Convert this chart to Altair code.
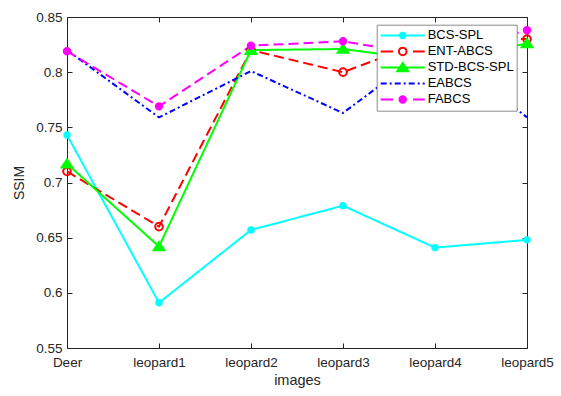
import altair as alt
import pandas as pd

# SSIM of each reconstruction method on the six test images
images = ["Deer", "leopard1", "leopard2", "leopard3", "leopard4", "leopard5"]
series_names = ["BCS-SPL", "ENT-ABCS", "STD-BCS-SPL", "EABCS", "FABCS"]
bcs_spl = [0.743, 0.591, 0.657, 0.679, 0.641, 0.648]
ent_abcs = [0.710, 0.660, 0.820, 0.800, 0.831, 0.830]
std_bcs_spl = [0.717, 0.642, 0.820, 0.821, 0.810, 0.826]
eabcs = [0.820, 0.759, 0.801, 0.763, 0.825, 0.759]
fabcs = [0.819, 0.769, 0.824, 0.828, 0.814, 0.838]
y_ticks = [0.55, 0.6, 0.65, 0.7, 0.75, 0.8, 0.85]

series_colors = ["#00FFFF", "#FF0000", "#00FF00", "#0000FF", "#FF00FF"]
series_dashes = [[1, 0], [10, 5], [1, 0], [6, 3, 2, 3], [10, 5]]

rows = []
for name, vals in zip(series_names, [bcs_spl, ent_abcs, std_bcs_spl, eabcs, fabcs]):
    for img, v in zip(images, vals):
        rows.append({"image": img, "series": name, "ssim": v})
df = pd.DataFrame(rows)

FONT = "Liberation Sans"
INK = "#262626"

# Symbol geometry: custom shapes live on a [-1, 1] square scaled by sqrt(size)/2
SYM = 44                # legend sample width in px
SIZE = SYM * SYM
R = SYM / 2


def u(px):
    return round(px / R, 4)


def circle(rpx):
    r = u(rpx)
    return f"M{r},0A{r},{r},0,1,1,{-r},0A{r},{r},0,1,1,{r},0Z"


def triangle(half_w, top, bottom):
    return f"M0,{u(top)}L{u(half_w)},{u(bottom)}L{-u(half_w)},{u(bottom)}Z"


def dashed_segments(pattern):
    # horizontal sample line from -1 to 1 broken up by a dash pattern (px)
    out, pos, i, on = [], -R, 0, True
    while pos < R:
        step = pattern[i % len(pattern)]
        end = min(pos + step, R)
        if on:
            out.append(f"M{u(pos)},0H{u(end)}")
        pos, i, on = end, i + 1, not on
    return "".join(out)


marker_paths = {
    "BCS-SPL": circle(2.7),
    "ENT-ABCS": circle(3.8),
    "STD-BCS-SPL": triangle(5.4, -4.4, 3.8),
    "FABCS": circle(3.2),
}
marker_fill = {
    "BCS-SPL": "#00FFFF",
    "ENT-ABCS": "transparent",
    "STD-BCS-SPL": "#00FF00",
    "FABCS": "#FF00FF",
}
marker_series = list(marker_paths.keys())
color_of = dict(zip(series_names, series_colors))

legend_paths = [
    "M-1,0H1" + marker_paths["BCS-SPL"],
    f"M-1,0H{u(-9.7)}M{u(10.3)},0H1" + marker_paths["ENT-ABCS"],
    "M-1,0H1" + marker_paths["STD-BCS-SPL"],
    dashed_segments([6, 3, 2, 3]),
    f"M-1,0H{u(-9.7)}M{u(10.3)},0H1" + marker_paths["FABCS"],
]
legend_fill = ["#00FFFF", "white", "#00FF00", "white", "#FF00FF"]

y_scale = alt.Scale(domain=[0.55, 0.85], nice=False, zero=False)

lines = alt.Chart(df).mark_line(strokeWidth=2).encode(
    x=alt.X("image:N", sort=images,
            scale=alt.Scale(type="point", padding=0, domain=images),
            axis=alt.Axis(orient="bottom", title="images", offset=-5, tickSize=5,
                          domain=False, labelAngle=0, labelPadding=7, labelOverlap=False,
                          titlePadding=5, titleFontSize=14.5)),
    y=alt.Y("ssim:Q", scale=y_scale,
            axis=alt.Axis(orient="left", title="SSIM", values=y_ticks, format=".2~f",
                          offset=-5, tickSize=5, domain=False, labelPadding=5,
                          titlePadding=9)),
    color=alt.Color("series:N", scale=alt.Scale(domain=series_names, range=series_colors),
                    legend=None),
    strokeDash=alt.StrokeDash("series:N",
                              scale=alt.Scale(domain=series_names, range=series_dashes),
                              legend=None),
    order=alt.Order("image_idx:Q"),
).transform_calculate(
    image_idx=f"indexof({images}, datum.image)"
)

markers = alt.Chart(df).transform_filter(
    alt.FieldOneOfPredicate(field="series", oneOf=marker_series)
).mark_point(filled=True, opacity=1, strokeWidth=2, size=SIZE).encode(
    x=alt.X("image:N", sort=images,
            scale=alt.Scale(type="point", padding=0, domain=images),
            axis=alt.Axis(orient="top", title=None, labels=False, offset=-5, tickSize=5,
                          domain=False)),
    y=alt.Y("ssim:Q", scale=y_scale,
            axis=alt.Axis(orient="right", title=None, labels=False, values=y_ticks,
                          offset=-5, tickSize=5, domain=False)),
    shape=alt.Shape("series:N",
                    scale=alt.Scale(domain=marker_series,
                                    range=[marker_paths[s] for s in marker_series]),
                    legend=None),
    fill=alt.Fill("series:N",
                  scale=alt.Scale(domain=marker_series,
                                  range=[marker_fill[s] for s in marker_series]),
                  legend=None),
    stroke=alt.Stroke("series:N",
                      scale=alt.Scale(domain=marker_series,
                                      range=[color_of[s] for s in marker_series]),
                      legend=None),
)

key = alt.Legend(
    title=None, orient="none", legendX=309.7, legendY=7.7, direction="vertical",
    symbolSize=SIZE, symbolStrokeWidth=2, symbolOpacity=1, clipHeight=15.5,
    rowPadding=0, padding=3, labelOffset=2, symbolOffset=0,
    labelFont=FONT, labelFontSize=13, labelColor="black", labelLimit=300,
    fillColor="white", strokeColor="#8c8c8c", cornerRadius=0,
)

legend_layer = alt.Chart(df).mark_point(filled=True, opacity=0, size=SIZE).encode(
    x=alt.X("image:N", sort=images, scale=alt.Scale(type="point", padding=0, domain=images),
            axis=None),
    y=alt.Y("ssim:Q", scale=y_scale, axis=None),
    shape=alt.Shape("series:N", scale=alt.Scale(domain=series_names, range=legend_paths),
                    legend=key),
    fill=alt.Fill("series:N", scale=alt.Scale(domain=series_names, range=legend_fill),
                  legend=key),
    stroke=alt.Stroke("series:N", scale=alt.Scale(domain=series_names, range=series_colors),
                      legend=key),
)

chart = alt.layer(lines, markers, legend_layer).resolve_scale(
    shape="independent", fill="independent", stroke="independent"
).resolve_axis(
    x="independent", y="independent"
).properties(
    width=460, height=331,
    padding={"left": 67, "top": 17, "right": 34, "bottom": 48},
    autosize=alt.AutoSizeParams(type="none"),
    background="white",
).configure_view(
    stroke=INK, strokeWidth=1
).configure_axis(
    labelFont=FONT, labelFontSize=13.5, labelColor=INK,
    titleFont=FONT, titleFontSize=14, titleFontWeight="normal", titleColor=INK,
    tickColor=INK, tickWidth=1, grid=False,
)

chart.save("out.html", embed_options={"renderer": "svg", "actions": False})
